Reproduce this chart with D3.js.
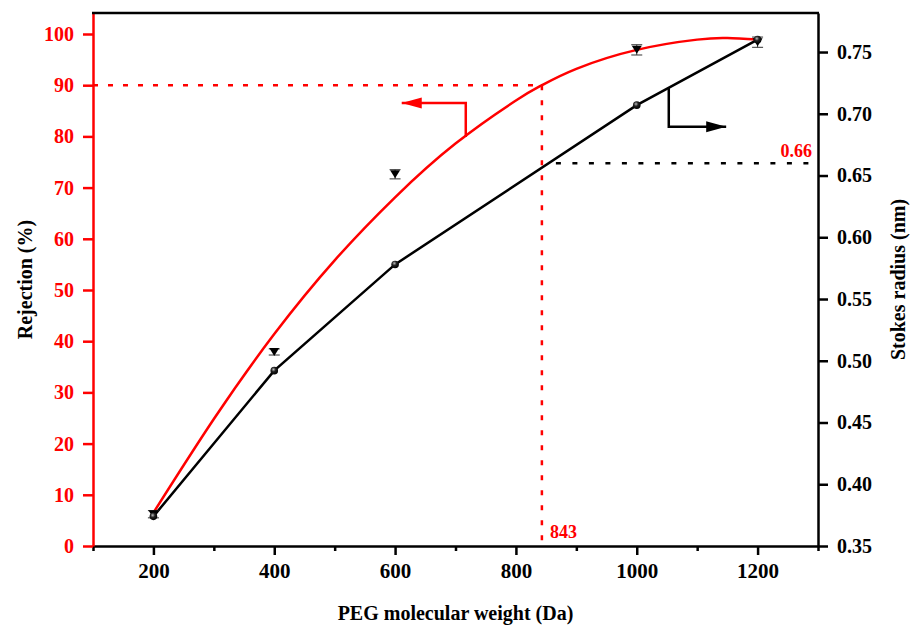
<!DOCTYPE html>
<html>
<head>
<meta charset="utf-8">
<script src="https://cdn.jsdelivr.net/npm/d3@7"></script>
<style>
  html, body { margin: 0; padding: 0; background: #fff; }
  svg { display: block; }
  text { font-family: "Liberation Serif", "Times New Roman", serif; font-weight: bold; }
</style>
</head>
<body>
<svg id="chart" width="910" height="627"></svg>
<script>
// PEG molecular weight (Da) of the probe solutes
const mw = [200, 400, 600, 1000, 1200];
// Measured rejection (%) and its error
const rejection = [6.2, 37.9, 72.6, 96.9, 98.4];
const rejectionErr = [0.7, 0.6, 0.9, 1.0, 1.0];
// Stokes radius (nm) of each PEG
const stokesRadius = [0.374, 0.492, 0.578, 0.707, 0.760];
// Fitted rejection curve
const fitMw = [200, 300, 400, 500, 600, 700, 800, 843, 900, 1000, 1100, 1150, 1200];
const fitRejection = [6.5, 24.8, 41.4, 55.8, 68.1, 78.6, 87.0, 90.0, 93.2, 96.9, 98.9, 99.2, 98.9];
// Tick values
const xMajorTicks = [200, 400, 600, 800, 1000, 1200];
const xMinorTicks = [100, 300, 500, 700, 900, 1100, 1300];
const leftTicks = [0, 10, 20, 30, 40, 50, 60, 70, 80, 90, 100];
const rightTicks = [0.35, 0.40, 0.45, 0.50, 0.55, 0.60, 0.65, 0.70, 0.75];
// Cut-off reading
const mwco = 843;
const mwcoRejection = 90;
const cutoffRadius = 0.66;

const RED = "#ff0000";
const svg = d3.select("#chart");
svg.append("rect").attr("width", 910).attr("height", 627).attr("fill", "#fff");

const plotLeft = 93, plotRight = 818, plotTop = 13, plotBottom = 546;
const x = d3.scaleLinear().domain([100, 1300]).range([plotLeft, plotRight]);
const yL = d3.scaleLinear().domain([0, 104.1]).range([plotBottom, plotTop]);
const yR = d3.scaleLinear().domain([0.35, 0.7816]).range([plotBottom, plotTop]);

// sphere-like gradient for the radius markers
const defs = svg.append("defs");
const grad = defs.append("radialGradient").attr("id", "ball")
  .attr("cx", "40%").attr("cy", "35%").attr("r", "65%");
grad.append("stop").attr("offset", "0%").attr("stop-color", "#bbb");
grad.append("stop").attr("offset", "45%").attr("stop-color", "#222");
grad.append("stop").attr("offset", "100%").attr("stop-color", "#000");

// ---- reference lines for the cut-off ----
svg.append("line")
  .attr("x1", plotLeft).attr("x2", x(mwco))
  .attr("y1", yL(mwcoRejection)).attr("y2", yL(mwcoRejection))
  .attr("stroke", RED).attr("stroke-width", 2.5).attr("stroke-dasharray", "5,10");
svg.append("line")
  .attr("x1", x(mwco)).attr("x2", x(mwco))
  .attr("y1", yL(mwcoRejection)).attr("y2", plotBottom)
  .attr("stroke", RED).attr("stroke-width", 2.5).attr("stroke-dasharray", "5,10");
svg.append("line")
  .attr("x1", x(mwco) + 14).attr("x2", plotRight)
  .attr("y1", yR(cutoffRadius)).attr("y2", yR(cutoffRadius))
  .attr("stroke", "#000").attr("stroke-width", 2.5).attr("stroke-dasharray", "5,11.5");

// ---- fitted rejection curve ----
svg.append("path")
  .datum(fitMw.map((m, i) => [m, fitRejection[i]]))
  .attr("fill", "none").attr("stroke", RED).attr("stroke-width", 2.5)
  .attr("d", d3.line().x(d => x(d[0])).y(d => yL(d[1])).curve(d3.curveNatural));

// ---- Stokes radius line ----
const radiusData = mw.map((m, i) => [m, stokesRadius[i]]);
svg.append("path")
  .datum(radiusData)
  .attr("fill", "none").attr("stroke", "#000").attr("stroke-width", 2.5)
  .attr("d", d3.line().x(d => x(d[0])).y(d => yR(d[1])));

// ---- rejection error bars and triangle markers ----
const rej = svg.append("g");
mw.forEach((m, i) => {
  const cx = x(m);
  const y1 = yL(rejection[i] - rejectionErr[i]);
  const y2 = yL(rejection[i] + rejectionErr[i]);
  rej.append("line").attr("x1", cx).attr("x2", cx).attr("y1", y1).attr("y2", y2)
    .attr("stroke", "#333").attr("stroke-width", 1);
  [y1, y2].forEach(yy => rej.append("line")
    .attr("x1", cx - 5.5).attr("x2", cx + 5.5).attr("y1", yy).attr("y2", yy)
    .attr("stroke", "#333").attr("stroke-width", 1));
});
rej.selectAll("path.tri")
  .data(mw.map((m, i) => [m, rejection[i]]))
  .join("path")
  .attr("class", "tri")
  .attr("transform", d => `translate(${x(d[0])},${yL(d[1])})`)
  .attr("d", "M-5,-4L5,-4L0,4Z")
  .attr("fill", "#000");

// ---- radius markers ----
svg.append("g").selectAll("circle")
  .data(radiusData)
  .join("circle")
  .attr("cx", d => x(d[0])).attr("cy", d => yR(d[1]))
  .attr("r", 3.8).attr("fill", "url(#ball)");

// ---- arrows pointing to each series' axis ----
function arrow(points, color, dir) {
  const line = d3.line();
  svg.append("path").attr("d", line(points))
    .attr("fill", "none").attr("stroke", color).attr("stroke-width", 2.5);
  const [tx, ty] = points[points.length - 1];
  const len = 20, hw = 5.5;
  const head = dir < 0
    ? `M${tx},${ty}L${tx + len},${ty - hw}L${tx + len},${ty + hw}Z`
    : `M${tx},${ty}L${tx - len},${ty - hw}L${tx - len},${ty + hw}Z`;
  svg.append("path").attr("d", head).attr("fill", color);
}
arrow([[x(717), yL(79.9)], [x(717), yL(86.5)], [x(611), yL(86.5)]], RED, -1);
arrow([[x(1053), yR(0.721)], [x(1053), yR(0.6895)], [x(1148), yR(0.6895)]], "#000", 1);

// ---- axes ----
const fontSize = "20px";
const xMajor = svg.append("g").attr("transform", `translate(0,${plotBottom})`)
  .call(d3.axisBottom(x).tickValues(xMajorTicks).tickSize(9).tickSizeOuter(0).tickPadding(8).tickFormat(d3.format("d")));
xMajor.select(".domain").attr("stroke", "#000").attr("stroke-width", 2.5);
xMajor.selectAll(".tick line").attr("stroke", "#000").attr("stroke-width", 2.5);
xMajor.selectAll(".tick text").attr("fill", "#000").style("font-size", "21px")
  .style("font-family", "Liberation Serif").style("font-weight", "bold");
const xMinor = svg.append("g").attr("transform", `translate(0,${plotBottom})`)
  .call(d3.axisBottom(x).tickValues(xMinorTicks).tickSize(5).tickSizeOuter(0).tickFormat(""));
xMinor.select(".domain").remove();
xMinor.selectAll(".tick line").attr("stroke", "#000").attr("stroke-width", 2.5);

const yLeft = svg.append("g").attr("transform", `translate(${plotLeft},0)`)
  .call(d3.axisLeft(yL).tickValues(leftTicks).tickSize(10).tickSizeOuter(0).tickPadding(9));
yLeft.select(".domain").attr("stroke", RED).attr("stroke-width", 2.5);
yLeft.selectAll(".tick line").attr("stroke", RED).attr("stroke-width", 2.5);
yLeft.selectAll(".tick text").attr("fill", RED).style("font-size", fontSize)
  .style("font-family", "Liberation Serif").style("font-weight", "bold");

const yRight = svg.append("g").attr("transform", `translate(${plotRight},0)`)
  .call(d3.axisRight(yR).tickValues(rightTicks).tickSize(10).tickSizeOuter(0).tickPadding(9).tickFormat(d3.format(".2f")));
yRight.select(".domain").attr("stroke", "#000").attr("stroke-width", 2.5);
yRight.selectAll(".tick line").attr("stroke", "#000").attr("stroke-width", 2.5);
yRight.selectAll(".tick text").attr("fill", "#000").style("font-size", fontSize)
  .style("font-family", "Liberation Serif").style("font-weight", "bold");

// top frame
svg.append("line").attr("x1", plotLeft - 1).attr("x2", plotRight + 1).attr("y1", plotTop).attr("y2", plotTop)
  .attr("stroke", "#000").attr("stroke-width", 2.5);

// ---- axis titles ----
svg.append("text").attr("x", (plotLeft + plotRight) / 2).attr("y", 620)
  .attr("text-anchor", "middle").style("font-size", fontSize).attr("fill", "#000")
  .text("PEG molecular weight (Da)");
svg.append("text").attr("transform", `translate(32,${(plotTop + plotBottom) / 2}) rotate(-90)`)
  .attr("text-anchor", "middle").style("font-size", fontSize).attr("fill", "#000")
  .text("Rejection (%)");
svg.append("text").attr("transform", `translate(905,${(plotTop + plotBottom) / 2}) rotate(-90)`)
  .attr("text-anchor", "middle").style("font-size", fontSize).attr("fill", "#000")
  .text("Stokes radius (nm)");

// ---- value labels ----
svg.append("text").attr("x", x(mwco) + 8).attr("y", 538)
  .style("font-size", "18px").attr("fill", RED).text(String(mwco));
svg.append("text").attr("x", 812).attr("y", yR(cutoffRadius) - 6)
  .attr("text-anchor", "end").style("font-size", "18px").attr("fill", RED)
  .text(cutoffRadius.toFixed(2));
</script>
</body>
</html>
